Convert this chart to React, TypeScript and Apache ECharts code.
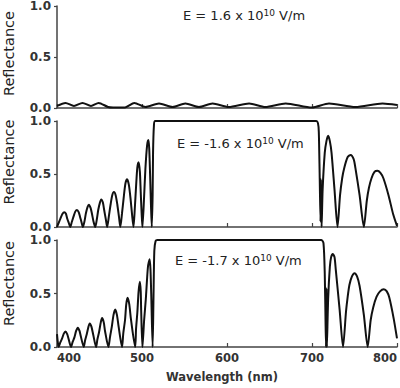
import React, { useEffect, useRef } from "react";
import * as echarts from "echarts";

// Panel 1: E = +1.6e10 V/m
const wlPos16 = [400, 410, 420, 430, 440, 449, 460, 466, 480, 491, 504, 520, 536, 551, 567, 583, 602, 626, 645, 669, 700, 720, 751, 783, 800];
const rPos16 = [0.02, 0.05, 0.02, 0.05, 0.02, 0.05, 0.01, 0.005, 0.005, 0.05, 0.01, 0.045, 0.01, 0.045, 0.01, 0.045, 0.01, 0.045, 0.01, 0.045, 0.005, 0.045, 0.01, 0.045, 0.03];

// Panel 2: E = -1.6e10 V/m
const wlNeg16 = [400, 402, 404, 406.5, 408.5, 410.5, 412, 414, 415.5, 417.5, 419.5, 421.5, 423.5, 425.5, 427, 429, 430.5, 432.5, 434, 436, 437.5, 439.5, 441, 443, 445, 447, 448.5, 450.5, 452, 454, 455.5, 457.5, 459, 461, 463, 465, 467, 469, 471, 473, 474.5, 476.5, 478.5, 480.5, 482.5, 484.5, 486.5, 488.5, 490, 491.5, 493, 494.5, 496, 497.5, 498.5, 499.5, 500.5, 502.5, 504, 506, 507.5, 508.5, 509.5, 510.5, 511.5, 512.5, 513, 514, 515.5, 705, 707, 708, 709, 710, 710.5, 711.3, 712.5, 715, 717, 719, 721, 723, 726.5, 730, 733, 735.5, 738, 742, 745.5, 749, 751, 756, 761, 764.5, 767, 770, 773.5, 777, 780.5, 784, 790, 795.5, 800];
const rNeg16 = [0.0, 0.04, 0.08, 0.125, 0.14, 0.125, 0.08, 0.035, 0.0, 0.05, 0.1, 0.145, 0.16, 0.14, 0.1, 0.04, 0.0, 0.06, 0.13, 0.19, 0.21, 0.18, 0.13, 0.05, 0.0, 0.08, 0.16, 0.23, 0.26, 0.23, 0.16, 0.07, 0.0, 0.1, 0.21, 0.3, 0.33, 0.3, 0.21, 0.09, 0.0, 0.13, 0.28, 0.41, 0.45, 0.4, 0.27, 0.1, 0.0, 0.17, 0.38, 0.56, 0.61, 0.52, 0.33, 0.14, 0.0, 0.29, 0.55, 0.77, 0.82, 0.74, 0.5, 0.22, 0.0, 0.3, 0.7, 0.95, 1.0, 1.0, 0.98, 0.9, 0.5, 0.05, 0.45, 0.0, 0.35, 0.7, 0.81, 0.86, 0.81, 0.7, 0.35, 0.0, 0.3, 0.46, 0.56, 0.66, 0.68, 0.64, 0.56, 0.3, 0.0, 0.25, 0.37, 0.46, 0.52, 0.53, 0.51, 0.46, 0.3, 0.12, 0.01];

// Panel 3: E = -1.7e10 V/m
const wlNeg17 = [400, 402, 404, 406, 408, 410, 412, 413.5, 416.5, 418.5, 420.5, 422.5, 424.5, 426.5, 428, 431.5, 433, 435, 437, 438.5, 440.5, 442.5, 446, 447.5, 449.5, 451.5, 453, 455, 456.5, 460.5, 462.5, 464.5, 466.5, 468.5, 470.5, 472.5, 476.5, 478, 480, 481.5, 483, 485, 487, 492, 493, 494.5, 496, 497.5, 498.5, 499, 500.5, 502.5, 504.5, 507, 509, 510, 511, 512.5, 513.5, 514.5, 516, 518, 711, 713.5, 715, 716, 716.5, 717, 717.5, 719, 721, 722.5, 724.5, 726.5, 728, 732.5, 736.5, 740, 742, 744, 747, 750, 753, 756, 761, 765.5, 769, 772, 776, 780, 784.5, 788, 791, 796, 800];
const rNeg17 = [0.12, 0.0, 0.045, 0.08, 0.125, 0.145, 0.12, 0.08, 0.0, 0.05, 0.09, 0.15, 0.18, 0.15, 0.1, 0.0, 0.06, 0.12, 0.19, 0.22, 0.19, 0.12, 0.0, 0.07, 0.14, 0.23, 0.27, 0.23, 0.15, 0.0, 0.1, 0.19, 0.3, 0.35, 0.3, 0.19, 0.0, 0.13, 0.25, 0.4, 0.46, 0.4, 0.26, 0.0, 0.17, 0.32, 0.52, 0.61, 0.52, 0.35, 0.0, 0.25, 0.45, 0.75, 0.82, 0.72, 0.45, 0.0, 0.45, 0.9, 0.99, 1.0, 1.0, 0.97, 0.69, 0.2, 0.0, 0.55, 0.0, 0.45, 0.75, 0.84, 0.87, 0.84, 0.72, 0.35, 0.0, 0.33, 0.47, 0.58, 0.66, 0.69, 0.66, 0.57, 0.3, 0.0, 0.25, 0.37, 0.47, 0.52, 0.54, 0.52, 0.46, 0.27, 0.08];

const xTicks = [400, 500, 600, 700, 800];
const yTicks = [0, 0.5, 1.0];
const fieldLabels = ["1.6", "-1.6", "-1.7"];

const zip = (xs: number[], ys: number[]) => xs.map((x, i) => [x, ys[i]]);

export default function App() {
  const ref = useRef<HTMLDivElement>(null);
  useEffect(() => {
    document.body.style.margin = "0";
    if (!ref.current) return;
    const chart = echarts.init(ref.current, undefined, { renderer: "svg" });
    const grids = [
      { left: 57, width: 340, top: 4, height: 104 },
      { left: 57, width: 340, top: 121, height: 106 },
      { left: 57, width: 340, top: 240, height: 107 },
    ];
    const axisColor = "#444";
    const xAxes = grids.map((_, i) => ({
      type: "value",
      gridIndex: i,
      min: xTicks[0],
      max: xTicks[xTicks.length - 1],
      interval: 100,
      axisLine: { show: true, lineStyle: { color: axisColor, width: 1.5 } },
      axisTick: { show: true, inside: true, length: 4, lineStyle: { color: axisColor, width: 1.2 } },
      splitLine: { show: false },
      axisLabel: {
        show: i === 2,
        fontFamily: "DejaVu Sans",
        fontWeight: "bold",
        fontSize: 11.5,
        color: "#333",
        margin: 5,
        alignMinLabel: "left",
        alignMaxLabel: "right",
      },
    }));
    const yAxes = grids.map((_, i) => ({
      type: "value",
      gridIndex: i,
      min: yTicks[0],
      max: yTicks[yTicks.length - 1],
      interval: 0.5,
      axisLine: { show: true, lineStyle: { color: axisColor, width: 1.5 } },
      axisTick: { show: true, length: 3, lineStyle: { color: axisColor, width: 1.2 } },
      splitLine: { show: false },
      axisLabel: {
        fontFamily: "DejaVu Sans",
        fontWeight: "bold",
        fontSize: 12,
        lineHeight: 12,
        color: "#333",
        margin: 6,
        formatter: (v: number) => v.toFixed(1),
      },
    }));
    const datasets = [zip(wlPos16, rPos16), zip(wlNeg16, rNeg16), zip(wlNeg17, rNeg17)];
    const series = datasets.map((d, i) => ({
      type: "line",
      xAxisIndex: i,
      yAxisIndex: i,
      data: d,
      showSymbol: false,
      smooth: 0.25,
      lineStyle: { color: "#111", width: 2 },
    }));
    const annPos = [
      [183, 15],
      [177, 143],
      [175, 260],
    ];
    const refY = [53.5, 162, 283.5];
    const graphic: any[] = [];
    annPos.forEach((p, i) => {
      graphic.push({
        type: "text",
        x: p[0],
        y: p[1],
        style: {
          text: `E = ${fieldLabels[i]} x 10{sup|10} V/m`,
          fontFamily: "DejaVu Sans",
          fontSize: 13,
          fill: "#222",
          verticalAlign: "middle",
          rich: {
            sup: { fontFamily: "DejaVu Sans", fontSize: 9, fill: "#222", verticalAlign: "top", lineHeight: 9, padding: [0, 0, 6, 0] },
          },
        },
      });
    });
    refY.forEach((y) => {
      graphic.push({
        type: "text",
        x: 9,
        y,
        rotation: Math.PI / 2,
        style: {
          text: "Reflectance",
          fontFamily: "DejaVu Sans",
          fontSize: 14.5,
          fill: "#222",
          align: "center",
          verticalAlign: "middle",
        },
      });
    });
    graphic.push({
      type: "text",
      x: 222,
      y: 377,
      style: {
        text: "Wavelength (nm)",
        fontFamily: "DejaVu Sans",
        fontWeight: "bold",
        fontSize: 11.5,
        fill: "#333",
        align: "center",
        verticalAlign: "middle",
      },
    });
    chart.setOption({
      animation: false,
      grid: grids,
      xAxis: xAxes,
      yAxis: yAxes,
      series,
      graphic,
    });
    return () => chart.dispose();
  }, []);
  return <div ref={ref} style={{ width: 400, height: 388 }} />;
}
